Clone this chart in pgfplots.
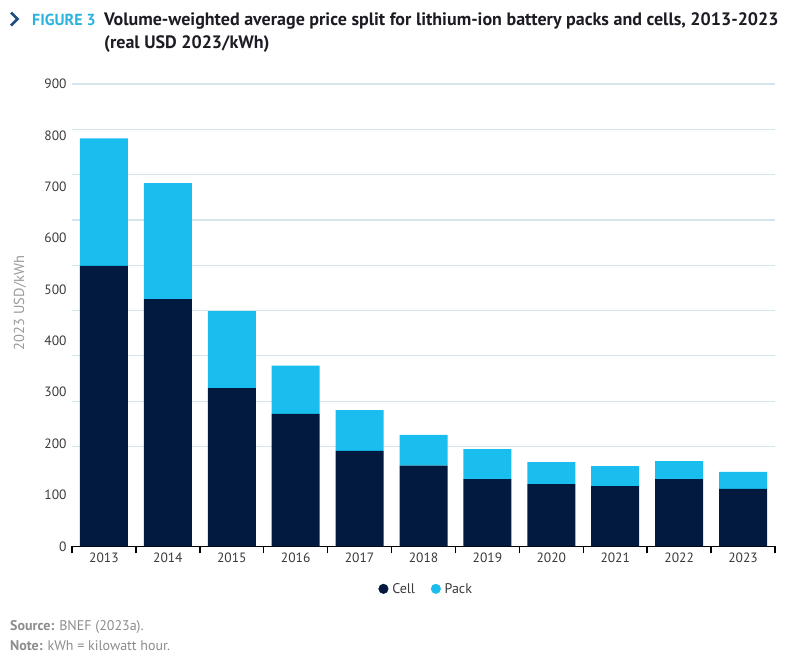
\documentclass[border=0pt]{standalone}
\usepackage{pgfplots}
\pgfplotsset{compat=1.18}
\usepackage{fontspec}
\setmainfont{PT Sans}
\definecolor{cellc}{HTML}{021A40}
\definecolor{packc}{HTML}{19BDEE}
\definecolor{gridc}{HTML}{D3E6EC}
\definecolor{tickc}{HTML}{3A3A3A}
\definecolor{greyc}{HTML}{8C8C8C}
\definecolor{ylabc}{HTML}{9A9A9A}
\definecolor{figc}{HTML}{2AB3DF}
\definecolor{chevc}{HTML}{1D4F86}
\definecolor{titc}{HTML}{1C1C24}
\begin{document}
\begin{tikzpicture}
\path[use as bounding box] (0pt,0pt) rectangle (789pt,-657pt);
% title
\draw[chevc, line width=2.6pt, line join=miter, line cap=butt] (11pt,-12.5pt) -- (17.5pt,-19pt) -- (11pt,-25.5pt);
\node[anchor=base west, inner sep=0, text=figc, font=\fontsize{16}{18}\selectfont\bfseries] at (32pt,-25pt) {FIGURE 3};
\node[anchor=base west, inner sep=0, text=titc, font=\fontsize{18}{20}\selectfont\bfseries] at (104pt,-25pt) {Volume-weighted average price split for lithium-ion battery packs and cells, 2013-2023};
\node[anchor=base west, inner sep=0, text=titc, font=\fontsize{18}{20}\selectfont\bfseries] at (104pt,-48pt) {(real USD 2023/kWh)};
% y label
\node[rotate=90, text=ylabc, font=\fontsize{14.5}{16}\selectfont] at (20pt,-303pt) {2023 USD/kWh};
% source / note
\node[anchor=base west, inner sep=0, text=greyc, font=\fontsize{14}{16}\selectfont] at (10pt,-630pt) {\textbf{Source:} BNEF (2023a).};
\node[anchor=base west, inner sep=0, text=greyc, font=\fontsize{14}{16}\selectfont] at (10pt,-650pt) {\textbf{Note:} kWh = kilowatt hour.};
\begin{axis}[
  at={(72pt,-546.3pt)}, anchor=south west,
  scale only axis, width=703pt, height=462.3pt,
  ybar stacked, bar width=48pt,
  xmin=-0.5, xmax=10.5, ymin=0, ymax=900,
  axis x line*=bottom,
  axis y line*=left,
  separate axis lines,
  x axis line style={draw=black, line width=1.6pt, -},
  y axis line style={draw=none},
  xtick={0,...,10},
  xticklabels={2013,2014,2015,2016,2017,2018,2019,2020,2021,2022,2023},
  ytick={0,100,...,900},
  major tick length=0pt,
  tick style={draw=none},
  extra x ticks={-0.5,0.5,...,10.5},
  extra x tick labels={},
  extra x tick style={tick style={draw=black, line width=1.4pt}, major tick length=7pt, tick align=outside},
  extra y ticks={900,811.8,723.6,635.4,547.2,459,370.8,282.6,194.4},
  extra y tick labels={},
  extra y tick style={grid=major, major grid style={draw=gridc, line width=1.3pt}},
  /pgf/number format/assume math mode=true,
  yticklabel style={font=\fontsize{13.5}{15}\selectfont, text=tickc, xshift=-2pt},
  xticklabel style={font=\fontsize{13.5}{15}\selectfont, text=tickc, yshift=-3pt},
]
\addplot[fill=cellc, draw=none] coordinates {(0,546) (1,481) (2,308) (3,258) (4,186) (5,157) (6,131) (7,121) (8,117) (9,131) (10,112)};
\addplot[fill=packc, draw=none] coordinates {(0,248) (1,226) (2,150) (3,94) (4,79) (5,60) (6,58) (7,43) (8,39) (9,35) (10,33)};
\end{axis}
\begin{axis}[
  at={(72pt,-546.3pt)}, anchor=south west,
  scale only axis, width=703pt, height=462.3pt,
  xmin=-0.5, xmax=10.5, ymin=0, ymax=900,
  hide axis,
  legend style={at={(0.504,-0.092)}, anchor=center, legend columns=2, draw=none, fill=none,
     font=\fontsize{14}{16}\selectfont, text=tickc,
     /tikz/every even column/.append style={column sep=14pt},
     /tikz/every odd column/.append style={column sep=2pt}},
  legend cell align=left,
]
\addlegendimage{only marks, mark=*, mark size=4.8pt, mark options={fill=cellc, draw=cellc}}
\addlegendentry{Cell}
\addlegendimage{only marks, mark=*, mark size=4.8pt, mark options={fill=packc, draw=packc}}
\addlegendentry{Pack}
\end{axis}
\end{tikzpicture}
\end{document}
